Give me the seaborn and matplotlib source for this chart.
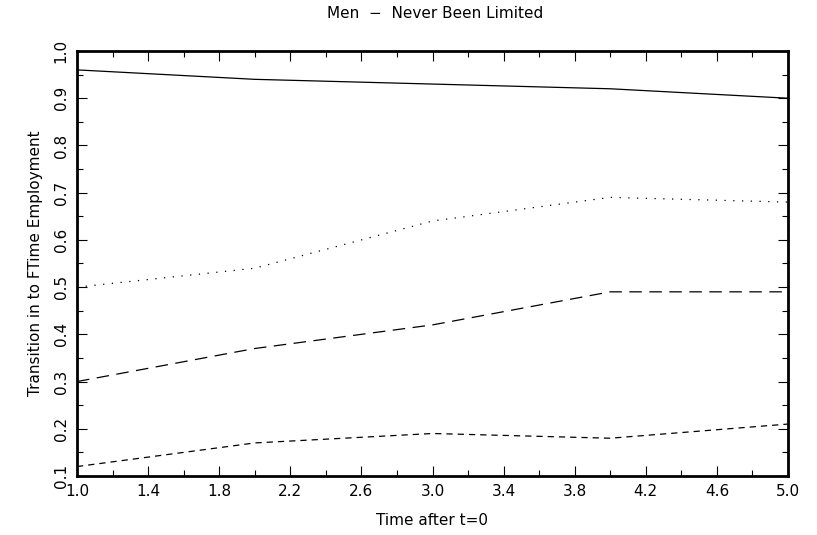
import matplotlib
matplotlib.use("Agg")
import matplotlib.pyplot as plt
from matplotlib.ticker import MultipleLocator, FixedLocator, FormatStrFormatter
import seaborn as sns
import pandas as pd
import numpy as np

time = [1, 2, 3, 4, 5]
series_solid = [0.96, 0.94, 0.93, 0.92, 0.90]
series_dotted = [0.50, 0.54, 0.64, 0.69, 0.68]
series_longdash = [0.30, 0.37, 0.42, 0.49, 0.49]
series_shortdash = [0.12, 0.17, 0.19, 0.18, 0.21]
series_names = ["solid", "dotted", "longdash", "shortdash"]
x_ticks = [1.0, 1.4, 1.8, 2.2, 2.6, 3.0, 3.4, 3.8, 4.2, 4.6, 5.0]

df = pd.DataFrame({
    "time": time * 4,
    "value": series_solid + series_dotted + series_longdash + series_shortdash,
    "series": sum([[n] * len(time) for n in series_names], []),
})

sns.set_theme(style="white")
plt.rcParams["font.family"] = ["DejaVu Sans"]

fig = plt.figure(figsize=(8.17, 5.35), dpi=100)
ax = fig.add_axes([77 / 817, 59 / 535, 711 / 817, 425 / 535])

dashes = {"solid": "", "dotted": (1, 6), "longdash": (10, 6), "shortdash": (5, 4)}
sns.lineplot(data=df, x="time", y="value", style="series", dashes=dashes,
             color="black", linewidth=0.9, legend=False, ax=ax)

ax.set_xlim(1.0, 5.0)
ax.set_ylim(0.1, 1.0)
ax.xaxis.set_major_locator(FixedLocator(x_ticks))
ax.xaxis.set_minor_locator(FixedLocator(np.arange(1.2, 5.0, 0.4)))
ax.yaxis.set_major_locator(MultipleLocator(0.1))
ax.yaxis.set_minor_locator(MultipleLocator(0.05))
ax.xaxis.set_major_formatter(FormatStrFormatter("%.1f"))
ax.yaxis.set_major_formatter(FormatStrFormatter("%.1f"))
ax.tick_params(which="both", direction="in", top=True, right=True,
               bottom=True, left=True, color="black", labelcolor="black")
ax.tick_params(which="major", length=7, width=0.8, labelsize=11, pad=6)
ax.tick_params(which="minor", length=4, width=0.8)
for lab in ax.get_yticklabels():
    lab.set_rotation(90)
    lab.set_va("center")
for s in ax.spines.values():
    s.set_linewidth(2)
    s.set_color("black")

ax.set_xlabel("Time after t=0", fontsize=11, color="black", labelpad=10)
ax.set_ylabel("Transition in to FTime Employment", fontsize=11, color="black", labelpad=8)
fig.text(0.532, 0.975, "Men  \u2212  Never Been Limited", ha="center", va="center",
         fontsize=11, color="black")

fig.savefig("out.png", dpi=100)
